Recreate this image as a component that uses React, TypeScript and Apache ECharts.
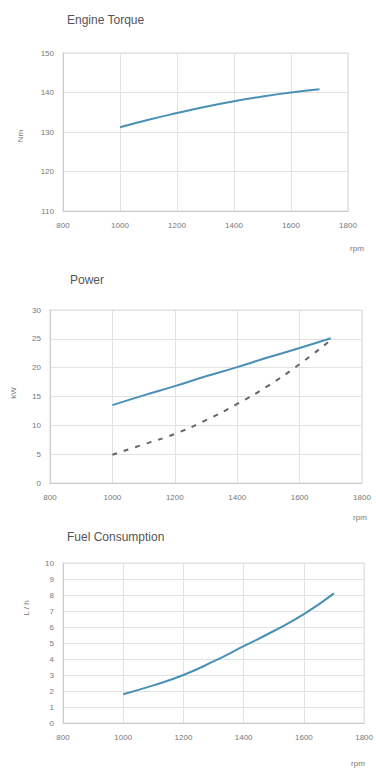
import React, { useEffect, useRef } from "react";
import * as echarts from "echarts";

const rpm = [1000, 1100, 1200, 1300, 1400, 1500, 1600, 1700];
const torque = [131.2, 133.1, 134.8, 136.4, 137.8, 139.0, 140.0, 140.8];
const powerSolid = [13.5, 15.2, 16.8, 18.5, 20.1, 21.8, 23.4, 25.1];
const powerDashed = [4.9, 6.7, 8.5, 10.9, 13.7, 16.9, 20.6, 24.8];
const fuel = [1.8, 2.35, 3.0, 3.85, 4.8, 5.75, 6.8, 8.1];

const titles = ["Engine Torque", "Power", "Fuel Consumption"];
const yNames = ["Nm", "kW", "L / h"];
const xName = "rpm";

const pair = (ys: number[]) => rpm.map((x, i) => [x, ys[i]]);

export default function App() {
  const ref = useRef<HTMLDivElement>(null);
  useEffect(() => {
    if (!ref.current) return;
    const chart = echarts.init(ref.current, null, { renderer: "svg" });
    const font = "Liberation Sans, Arial, sans-serif";
    const grids = [
      { left: 63, right: 28, top: 53, height: 158 },
      { left: 50, right: 14, top: 310, height: 173 },
      { left: 63, right: 11, top: 563, height: 160 },
    ];
    const yCfg = [
      { min: 110, max: 150, interval: 10 },
      { min: 0, max: 30, interval: 5 },
      { min: 0, max: 10, interval: 1 },
    ];
    const labelColor = "#777";
    const xAxis = grids.map((_, i) => ({
      type: "value",
      gridIndex: i,
      min: 800,
      max: 1800,
      interval: 200,
      axisLine: { show: true, lineStyle: { color: "#ccc" } },
      axisTick: { show: false },
      axisLabel: {
        color: labelColor,
        fontSize: 8,
        fontFamily: font,
        margin: 10,
        formatter: (v: number) => String(v),
      },
      splitLine: { show: true, lineStyle: { color: "#e2e2e2" } },
    }));
    const yAxis = grids.map((_, i) => ({
      type: "value",
      gridIndex: i,
      ...yCfg[i],
      axisLine: { show: true, lineStyle: { color: "#ccc" } },
      axisTick: { show: false },
      axisLabel: { color: labelColor, fontSize: 8, fontFamily: font, margin: 9 },
      splitLine: { show: true, lineStyle: { color: "#e2e2e2" } },
    }));
    const blue = "#4a8fb5";
    const titleTop = [14, 274, 531];
    const titleLeft = [67, 70, 67];
    const xNamePos = [
      [357, 248],
      [360, 517],
      [358, 763],
    ];
    const yNamePos = [
      [20, 136],
      [13, 393],
      [26, 608],
    ];
    const graphic: any[] = [];
    xNamePos.forEach((p) =>
      graphic.push({
        type: "text",
        x: p[0],
        y: p[1],
        style: {
          text: xName,
          fill: labelColor,
          font: `8px ${font}`,
          align: "center",
          verticalAlign: "middle",
        },
      })
    );
    yNamePos.forEach((p, i) =>
      graphic.push({
        type: "text",
        x: p[0],
        y: p[1],
        rotation: Math.PI / 2,
        style: {
          text: yNames[i],
          fill: labelColor,
          font: `8px ${font}`,
          align: "center",
          verticalAlign: "middle",
        },
      })
    );
    chart.setOption({
      animation: false,
      backgroundColor: "#fff",
      title: titles.map((t, i) => ({
        text: t,
        left: titleLeft[i],
        top: titleTop[i],
        padding: 0,
        textStyle: { color: "#555", fontSize: 12, fontWeight: "normal", fontFamily: font },
      })),
      grid: grids.map((g) => ({ ...g, show: true, borderColor: "#ddd", borderWidth: 1 })),
      xAxis,
      yAxis,
      graphic,
      series: [
        {
          type: "line",
          xAxisIndex: 0,
          yAxisIndex: 0,
          data: pair(torque),
          smooth: true,
          symbol: "none",
          lineStyle: { color: blue, width: 2 },
        },
        {
          type: "line",
          xAxisIndex: 1,
          yAxisIndex: 1,
          data: pair(powerSolid),
          smooth: true,
          symbol: "none",
          lineStyle: { color: blue, width: 2 },
        },
        {
          type: "line",
          xAxisIndex: 1,
          yAxisIndex: 1,
          data: pair(powerDashed),
          smooth: true,
          symbol: "none",
          lineStyle: { color: "#666", width: 2, type: [5, 7] },
        },
        {
          type: "line",
          xAxisIndex: 2,
          yAxisIndex: 2,
          data: pair(fuel),
          smooth: true,
          symbol: "none",
          lineStyle: { color: blue, width: 2 },
        },
      ],
    });
    return () => chart.dispose();
  }, []);
  return (
    <div
      ref={ref}
      style={{ position: "fixed", left: 0, top: 0, width: 376, height: 769 }}
    />
  );
}
